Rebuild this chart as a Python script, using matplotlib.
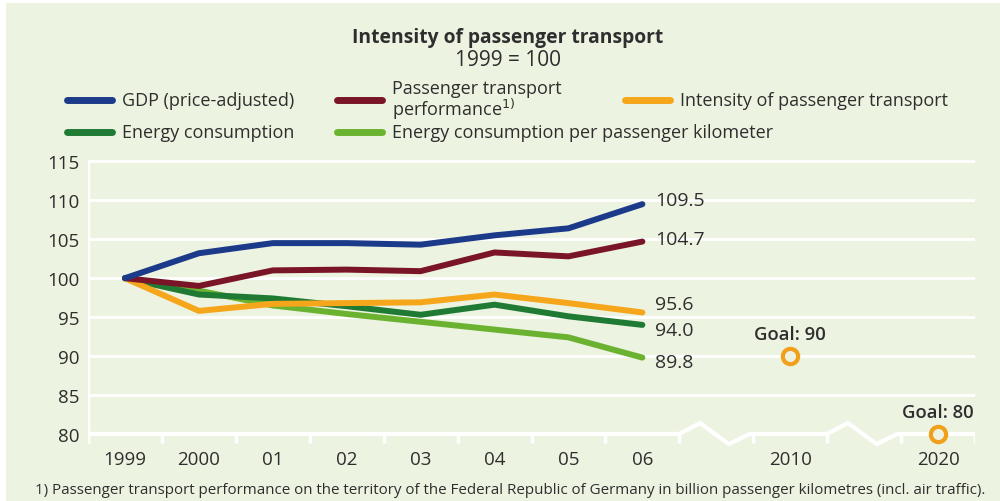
#!/usr/bin/env python3
"""
Intensity of passenger transport, index 1999 = 100.
Line chart with end-of-series values and two goal markers.
"""

import matplotlib
matplotlib.use('Agg')
import matplotlib.pyplot as plt
from matplotlib.patches import Rectangle

# Year labels on the x axis; 2010 and 2020 sit after a broken axis
years = ['1999', '2000', '01', '02', '03', '04', '05', '06', '2010', '2020']
year_pos = [0, 1, 2, 3, 4, 5, 6, 7, 9, 11]

gdp = [100, 103.2, 104.5, 104.5, 104.3, 105.5, 106.4, 109.5]
transport_perf = [100, 99.0, 101.0, 101.1, 100.9, 103.3, 102.8, 104.7]
intensity = [100, 95.8, 96.7, 96.8, 96.9, 97.9, 96.8, 95.6]
energy = [100, 97.9, 97.4, 96.4, 95.3, 96.6, 95.1, 94.0]
energy_per_pkm = [100, 98.4, 96.5, 95.4, 94.4, 93.4, 92.4, 89.8]

goal_pos = [9, 11]
goal_values = [90, 80]

series = [
    ('GDP (price-adjusted)', gdp, '#1b3b8a'),
    ('Passenger transport\nperformance$^{1)}$', transport_perf, '#7a1528'),
    ('Intensity of passenger transport', intensity, '#f5a61a'),
    ('Energy consumption', energy, '#1f7a34'),
    ('Energy consumption per passenger kilometer', energy_per_pkm, '#6ab230'),
]

BG = '#edf3e1'
TXT = '#2e2e2e'
FONT = ['Open Sans', 'DejaVu Sans']

plt.rcParams['font.family'] = FONT

fig = plt.figure(figsize=(10, 5.02), dpi=100, facecolor='white')
fig.patches.append(Rectangle((0.006, 0), 0.994, 0.992, transform=fig.transFigure,
                             facecolor=BG, edgecolor='none', zorder=-10))

ax = fig.add_axes([0.088, 1 - 470 / 502, 0.887, 310 / 502])
ax.set_facecolor('none')
ax.set_xlim(-0.5, 11.5)
ax.set_ylim(75.5, 115.3)
for s in ax.spines.values():
    s.set_visible(False)

# White grid, left axis line and tick marks
for v in range(85, 116, 5):
    ax.axhline(v, color='white', lw=2, zorder=1)
ax.plot([-0.5, -0.5], [78.9, 115], color='white', lw=2.5, zorder=1,
        solid_capstyle='butt')
half = [i + 0.5 for i in range(-1, 12)]
ax.vlines(half, 78.9, 80, color='white', lw=2.5, zorder=1)

# Bottom axis line with two zigzag breaks
bx = [-0.5, 7.5, 7.78, 8.17, 8.45, 9.5, 9.78, 10.17, 10.45, 11.5]
by = [80, 80, 81.4, 78.7, 80, 80, 81.4, 78.7, 80, 80]
ax.plot(bx, by, color='white', lw=3, zorder=1, solid_joinstyle='miter')

ax.set_yticks(range(80, 116, 5))
ax.set_yticklabels([str(v) for v in range(80, 116, 5)])
ax.tick_params(axis='y', length=0, pad=6, labelsize=13.5, labelcolor=TXT)
ax.set_xticks([])

for pos, lab in zip(year_pos, years):
    ax.text(pos, 76.8, lab, ha='center', va='center', fontsize=13.5, color=TXT)

# Series lines, first series on top
for k, (label, vals, color) in enumerate(series):
    ax.plot(range(len(vals)), vals, color=color, lw=4.3, solid_capstyle='round',
            solid_joinstyle='round', zorder=10 - k)

# End values
end_offsets = {109.5: 0.6, 104.7: 0.35, 95.6: 1.1, 94.0: -0.7, 89.8: -0.6}
for label, vals, color in series:
    last = vals[-1]
    ax.text(7.17, last + end_offsets.get(last, 0), f'{last:.1f}', ha='left',
            va='center', fontsize=14, color=TXT)

# Goals
ax.plot(goal_pos, goal_values, 'o', ms=11, mfc=BG, mec='#f0a01a', mew=3,
        zorder=12, clip_on=False)
for pos, val in zip(goal_pos, goal_values):
    ax.text(pos, val + 2.8, f'Goal: {val}', ha='center', va='center',
            fontsize=13.3, color=TXT, fontweight='semibold')

# Title
fig.text(0.508, 1 - 38 / 502, 'Intensity of passenger transport', ha='center',
         va='center', fontsize=13.9, fontweight='bold', color=TXT)
fig.text(0.508, 1 - 60 / 502, '1999 = 100', ha='center', va='center',
         fontsize=15, color=TXT)

# Legend drawn by hand in figure pixels
legend_slots = [(67, 101), (337, 101), (625, 101), (67, 133), (337, 133)]
for (x0, y0), (label, vals, color) in zip(legend_slots, series):
    yy = 1 - y0 / 502
    fig.add_artist(plt.Line2D([x0 / 1000, (x0 + 45) / 1000], [yy, yy], color=color,
                              lw=5, solid_capstyle='round'))
    fig.text((x0 + 55) / 1000, yy, label, ha='left', va='center', fontsize=13,
             color=TXT, linespacing=0.95)

fig.text(0.035, 1 - 491 / 502,
         '1) Passenger transport performance on the territory of the Federal Republic '
         'of Germany in billion passenger kilometres (incl. air traffic).',
         ha='left', va='center', fontsize=10.9, color=TXT)

fig.savefig('out.png', dpi=100, facecolor='white')
